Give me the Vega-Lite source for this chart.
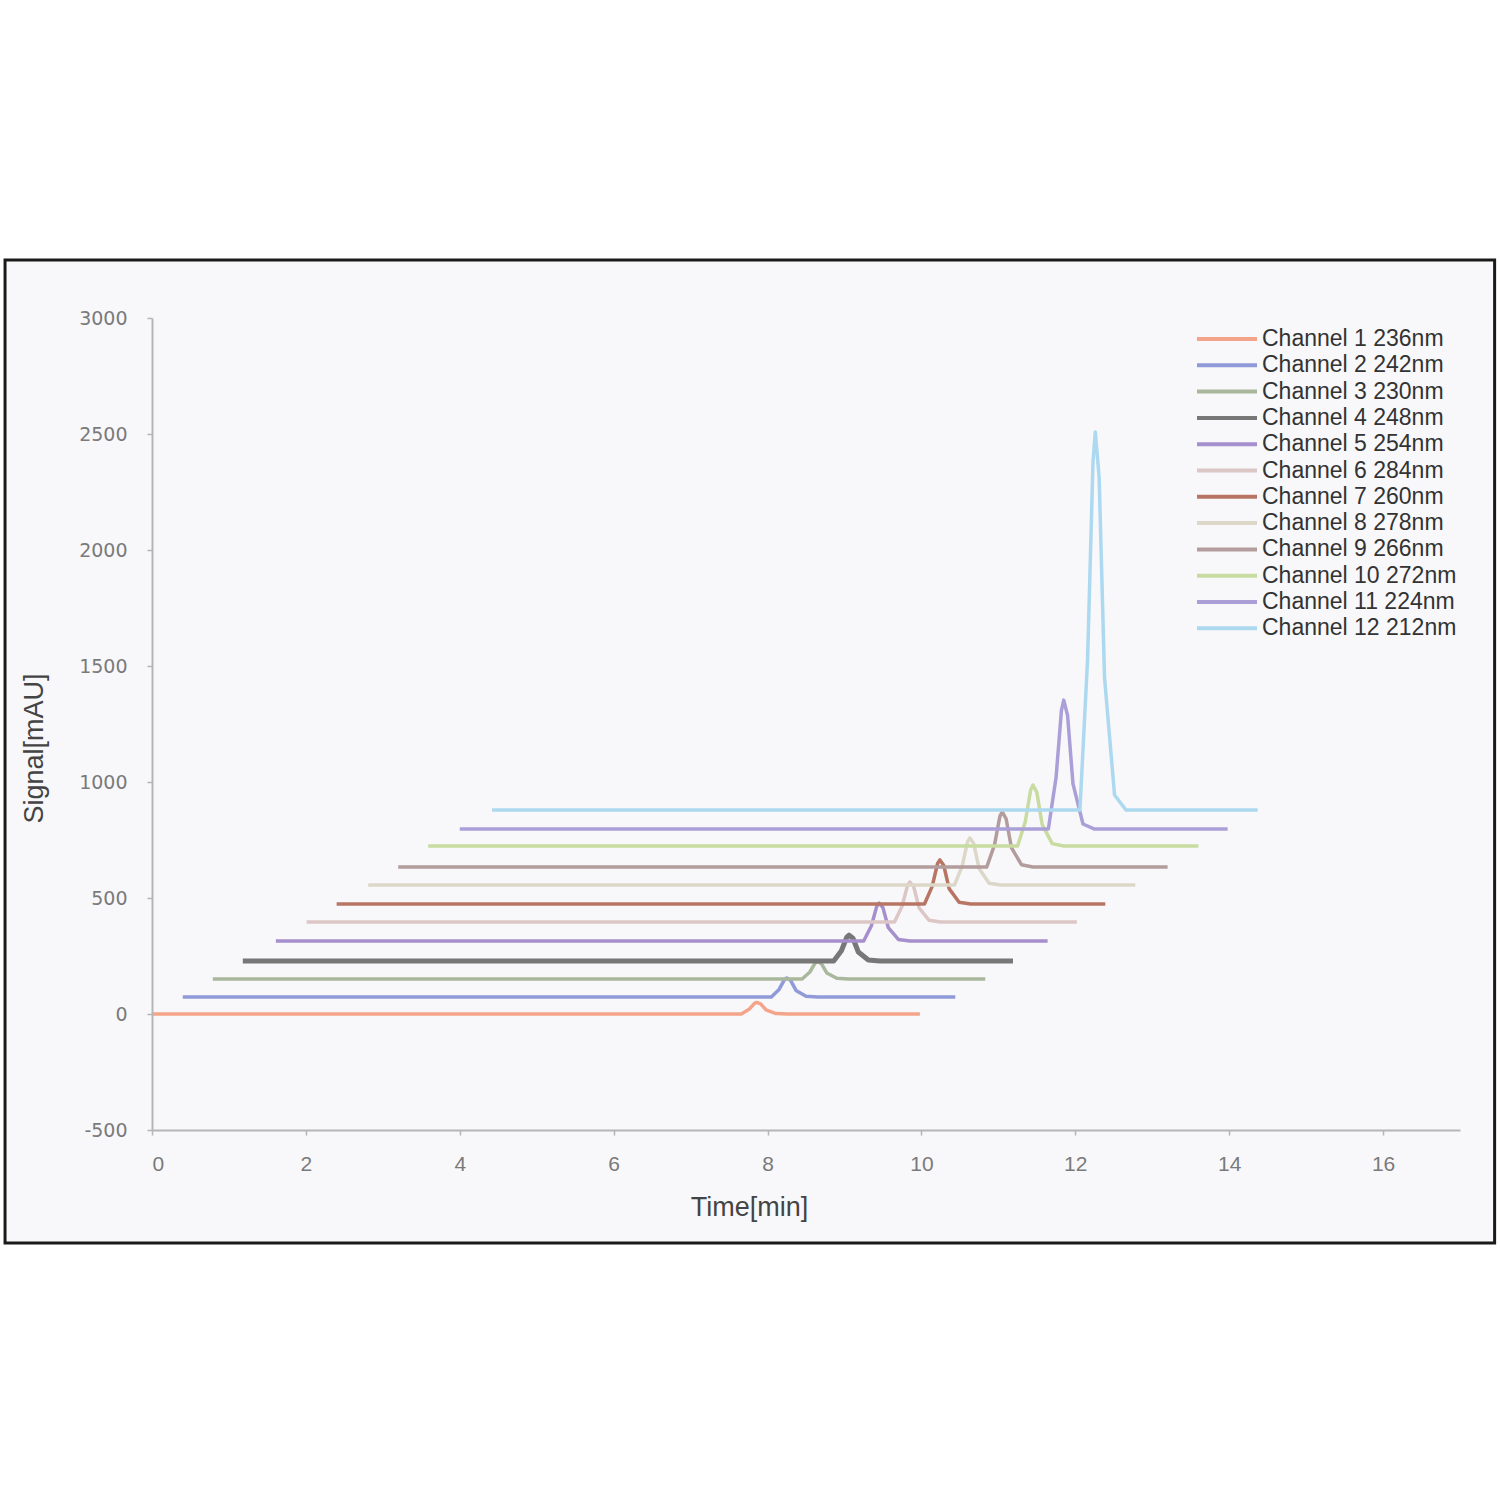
{
  "$schema": "https://vega.github.io/schema/vega-lite/v6.json",
  "width": 1308,
  "height": 812,
  "padding": {"left": 3, "top": 258, "right": 2, "bottom": 5},
  "background": "white",
  "config": {"view": {"stroke": null}, "font": "Liberation Sans"},
  "layer": [
    {
      "data": {"values": [{}]},
      "mark": {"type": "rect", "fill": "#f8f8fa", "stroke": "#1a1a1a", "strokeWidth": 3, "clip": false},
      "encoding": {
        "x": {"datum": -1.91, "type": "quantitative", "scale": {"domain": [0, 17], "nice": false, "zero": false}},
        "x2": {"datum": 17.45},
        "y": {"datum": 3250, "type": "quantitative", "scale": {"domain": [-500, 3000], "nice": false, "zero": false}},
        "y2": {"datum": -987}
      }
    },
    {
      "data": {"values": [
        {"ch":"Channel 1 236nm","t":0,"v":0},{"ch":"Channel 1 236nm","t":7.66,"v":0},{"ch":"Channel 1 236nm","t":7.76,"v":20},{"ch":"Channel 1 236nm","t":7.83,"v":46},{"ch":"Channel 1 236nm","t":7.86,"v":50},{"ch":"Channel 1 236nm","t":7.91,"v":44},{"ch":"Channel 1 236nm","t":7.98,"v":17.5},{"ch":"Channel 1 236nm","t":8.11,"v":2},{"ch":"Channel 1 236nm","t":8.26,"v":0},{"ch":"Channel 1 236nm","t":9.98,"v":0},
        {"ch":"Channel 2 242nm","t":0.40,"v":73},{"ch":"Channel 2 242nm","t":8.05,"v":73},{"ch":"Channel 2 242nm","t":8.15,"v":105.8},{"ch":"Channel 2 242nm","t":8.22,"v":148.4},{"ch":"Channel 2 242nm","t":8.25,"v":155},{"ch":"Channel 2 242nm","t":8.30,"v":145.2},{"ch":"Channel 2 242nm","t":8.37,"v":101.7},{"ch":"Channel 2 242nm","t":8.50,"v":76.3},{"ch":"Channel 2 242nm","t":8.65,"v":73},{"ch":"Channel 2 242nm","t":10.44,"v":73},
        {"ch":"Channel 3 230nm","t":0.79,"v":151},{"ch":"Channel 3 230nm","t":8.45,"v":151},{"ch":"Channel 3 230nm","t":8.55,"v":181},{"ch":"Channel 3 230nm","t":8.62,"v":220},{"ch":"Channel 3 230nm","t":8.65,"v":226},{"ch":"Channel 3 230nm","t":8.70,"v":217},{"ch":"Channel 3 230nm","t":8.77,"v":177},{"ch":"Channel 3 230nm","t":8.90,"v":154},{"ch":"Channel 3 230nm","t":9.05,"v":151},{"ch":"Channel 3 230nm","t":10.83,"v":151},
        {"ch":"Channel 4 248nm","t":1.18,"v":228},{"ch":"Channel 4 248nm","t":8.86,"v":228},{"ch":"Channel 4 248nm","t":8.96,"v":272.8},{"ch":"Channel 4 248nm","t":9.03,"v":331},{"ch":"Channel 4 248nm","t":9.06,"v":340},{"ch":"Channel 4 248nm","t":9.11,"v":326.6},{"ch":"Channel 4 248nm","t":9.18,"v":267.2},{"ch":"Channel 4 248nm","t":9.31,"v":232.5},{"ch":"Channel 4 248nm","t":9.46,"v":228},{"ch":"Channel 4 248nm","t":11.19,"v":228},
        {"ch":"Channel 5 254nm","t":1.61,"v":315},{"ch":"Channel 5 254nm","t":9.25,"v":315},{"ch":"Channel 5 254nm","t":9.35,"v":380.2},{"ch":"Channel 5 254nm","t":9.42,"v":465},{"ch":"Channel 5 254nm","t":9.45,"v":478},{"ch":"Channel 5 254nm","t":9.50,"v":458.4},{"ch":"Channel 5 254nm","t":9.57,"v":372},{"ch":"Channel 5 254nm","t":9.70,"v":321.5},{"ch":"Channel 5 254nm","t":9.85,"v":315},{"ch":"Channel 5 254nm","t":11.64,"v":315},
        {"ch":"Channel 6 284nm","t":2.01,"v":397},{"ch":"Channel 6 284nm","t":9.65,"v":397},{"ch":"Channel 6 284nm","t":9.75,"v":465.8},{"ch":"Channel 6 284nm","t":9.82,"v":555.2},{"ch":"Channel 6 284nm","t":9.85,"v":569},{"ch":"Channel 6 284nm","t":9.90,"v":548.4},{"ch":"Channel 6 284nm","t":9.97,"v":457.2},{"ch":"Channel 6 284nm","t":10.10,"v":403.9},{"ch":"Channel 6 284nm","t":10.25,"v":397},{"ch":"Channel 6 284nm","t":12.02,"v":397},
        {"ch":"Channel 7 260nm","t":2.40,"v":474},{"ch":"Channel 7 260nm","t":10.04,"v":474},{"ch":"Channel 7 260nm","t":10.14,"v":550},{"ch":"Channel 7 260nm","t":10.21,"v":648.8},{"ch":"Channel 7 260nm","t":10.24,"v":664},{"ch":"Channel 7 260nm","t":10.29,"v":641.2},{"ch":"Channel 7 260nm","t":10.36,"v":540.5},{"ch":"Channel 7 260nm","t":10.49,"v":481.6},{"ch":"Channel 7 260nm","t":10.64,"v":474},{"ch":"Channel 7 260nm","t":12.39,"v":474},
        {"ch":"Channel 8 278nm","t":2.81,"v":556},{"ch":"Channel 8 278nm","t":10.43,"v":556},{"ch":"Channel 8 278nm","t":10.53,"v":637.2},{"ch":"Channel 8 278nm","t":10.60,"v":742.8},{"ch":"Channel 8 278nm","t":10.63,"v":759},{"ch":"Channel 8 278nm","t":10.68,"v":734.6},{"ch":"Channel 8 278nm","t":10.75,"v":627},{"ch":"Channel 8 278nm","t":10.88,"v":564},{"ch":"Channel 8 278nm","t":11.03,"v":556},{"ch":"Channel 8 278nm","t":12.78,"v":556},
        {"ch":"Channel 9 266nm","t":3.20,"v":634},{"ch":"Channel 9 266nm","t":10.85,"v":634},{"ch":"Channel 9 266nm","t":10.95,"v":728.8},{"ch":"Channel 9 266nm","t":11.02,"v":852},{"ch":"Channel 9 266nm","t":11.05,"v":871},{"ch":"Channel 9 266nm","t":11.10,"v":842.6},{"ch":"Channel 9 266nm","t":11.17,"v":717},{"ch":"Channel 9 266nm","t":11.30,"v":643.5},{"ch":"Channel 9 266nm","t":11.45,"v":634},{"ch":"Channel 9 266nm","t":13.20,"v":634},
        {"ch":"Channel 10 272nm","t":3.59,"v":724},{"ch":"Channel 10 272nm","t":11.25,"v":724},{"ch":"Channel 10 272nm","t":11.35,"v":829},{"ch":"Channel 10 272nm","t":11.42,"v":966},{"ch":"Channel 10 272nm","t":11.45,"v":987},{"ch":"Channel 10 272nm","t":11.50,"v":955.4},{"ch":"Channel 10 272nm","t":11.57,"v":816},{"ch":"Channel 10 272nm","t":11.70,"v":734.5},{"ch":"Channel 10 272nm","t":11.85,"v":724},{"ch":"Channel 10 272nm","t":13.60,"v":724},
        {"ch":"Channel 11 224nm","t":4.00,"v":797},{"ch":"Channel 11 224nm","t":11.65,"v":797},{"ch":"Channel 11 224nm","t":11.75,"v":1019},{"ch":"Channel 11 224nm","t":11.82,"v":1308.5},{"ch":"Channel 11 224nm","t":11.85,"v":1353},{"ch":"Channel 11 224nm","t":11.90,"v":1286},{"ch":"Channel 11 224nm","t":11.97,"v":991.6},{"ch":"Channel 11 224nm","t":12.10,"v":819},{"ch":"Channel 11 224nm","t":12.25,"v":797},{"ch":"Channel 11 224nm","t":13.98,"v":797},
        {"ch":"Channel 12 212nm","t":4.42,"v":879},{"ch":"Channel 12 212nm","t":12.06,"v":879},{"ch":"Channel 12 212nm","t":12.16,"v":1531},{"ch":"Channel 12 212nm","t":12.23,"v":2378.6},{"ch":"Channel 12 212nm","t":12.26,"v":2509},{"ch":"Channel 12 212nm","t":12.31,"v":2313},{"ch":"Channel 12 212nm","t":12.38,"v":1449.5},{"ch":"Channel 12 212nm","t":12.51,"v":944},{"ch":"Channel 12 212nm","t":12.66,"v":879},{"ch":"Channel 12 212nm","t":14.37,"v":879}
      ]},
      "mark": {"type": "line", "clip": false, "strokeJoin": "round"},
      "encoding": {
        "x": {
          "field": "t", "type": "quantitative",
          "scale": {"domain": [0, 17], "nice": false, "zero": false},
          "axis": {
            "title": "Time[min]", "values": [0, 2, 4, 6, 8, 10, 12, 14, 16], "format": "d",
            "grid": false, "zindex": 1,
            "domainColor": "#b5b5b5", "domainWidth": 2,
            "tickColor": "#b5b5b5", "tickSize": 5, "tickWidth": 1.5,
            "labelColor": "#7a7a7a", "labelFontSize": 21, "labelPadding": 18,
            "titleColor": "#444444", "titleFontSize": 27, "titleFontWeight": "normal",
            "titlePadding": 20, "titleX": 597
          }
        },
        "y": {
          "field": "v", "type": "quantitative",
          "scale": {"domain": [-500, 3000], "nice": false, "zero": false},
          "axis": {
            "title": "Signal[mAU]", "values": [-500, 0, 500, 1000, 1500, 2000, 2500, 3000],
            "labelExpr": "datum.value < 0 ? '-' + abs(datum.value) : '' + datum.value",
            "grid": false, "zindex": 1,
            "domainColor": "#b5b5b5", "domainWidth": 2,
            "tickColor": "#b5b5b5", "tickSize": 5, "tickWidth": 1.5,
            "labelColor": "#7a7a7a", "labelFont": "DejaVu Sans", "labelFontSize": 19, "labelPadding": 20,
            "titleColor": "#444444", "titleFontSize": 27, "titleFontWeight": "normal",
            "titlePadding": 30, "titleY": 430
          }
        },
        "color": {
          "field": "ch", "type": "nominal",
          "scale": {
            "domain": ["Channel 1 236nm","Channel 2 242nm","Channel 3 230nm","Channel 4 248nm","Channel 5 254nm","Channel 6 284nm","Channel 7 260nm","Channel 8 278nm","Channel 9 266nm","Channel 10 272nm","Channel 11 224nm","Channel 12 212nm"],
            "range": ["#f4a48a","#909ad8","#a9b89c","#777777","#a58fcc","#dcc6c6","#b87563","#dcd7c8","#b39c9c","#c8dba0","#ab9fd8","#acd9ef"]
          },
          "legend": {
            "title": null, "orient": "none", "legendX": 1084, "legendY": 9,
            "symbolType": "M-5.1,0H0.9", "symbolSize": 400, "symbolStrokeWidth": 4,
            "labelFontSize": 23, "labelColor": "#333333", "labelOffset": 2, "labelLimit": 0,
            "rowPadding": 2.3, "padding": 0
          }
        },
        "strokeWidth": {
          "condition": {"test": "datum.ch === 'Channel 4 248nm'", "value": 5},
          "value": 3.5
        }
      }
    }
  ]
}
